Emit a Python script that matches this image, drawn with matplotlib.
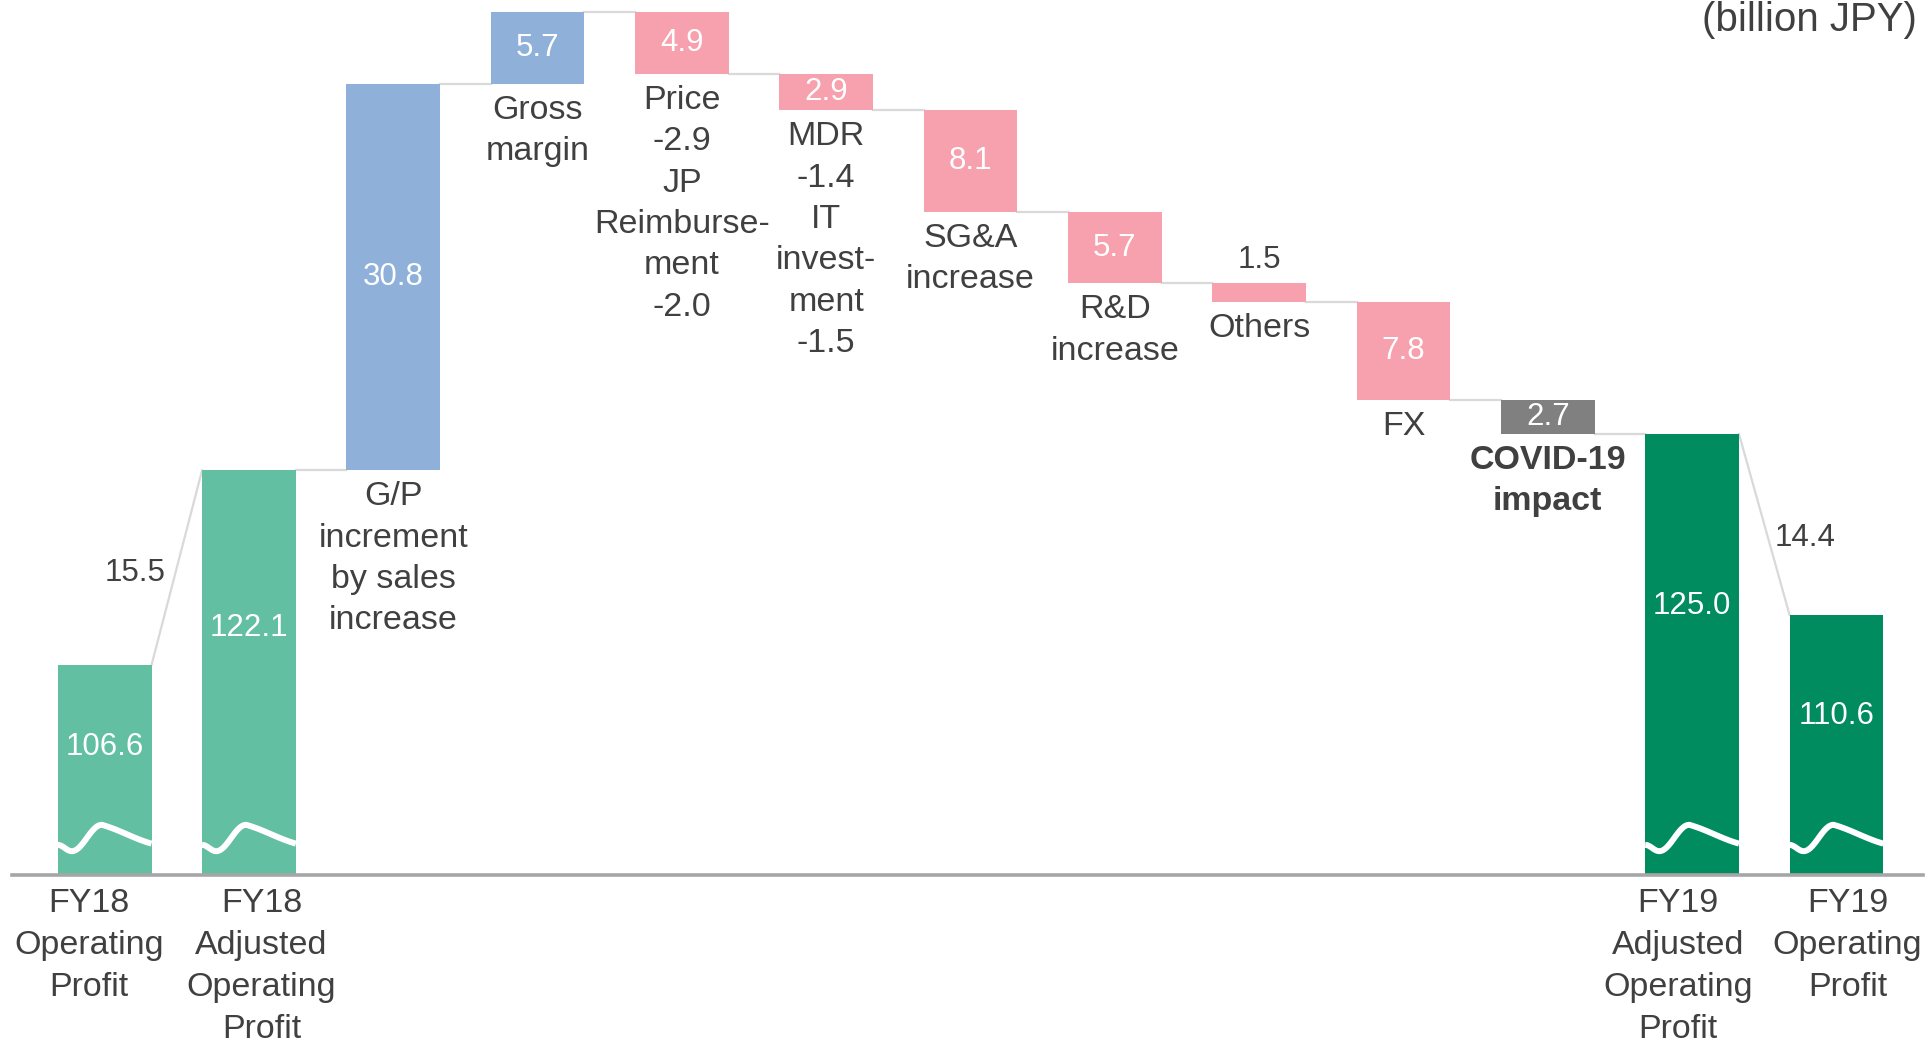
import numpy as np
import matplotlib.pyplot as plt

plt.rcParams['font.family'] = ['Liberation Sans', 'DejaVu Sans']

# Data (billion JPY)
categories = ["FY18\nOperating\nProfit", "FY18\nAdjusted\nOperating\nProfit",
              "G/P\nincrement\nby sales\nincrease", "Gross\nmargin",
              "Price\n-2.9\nJP\nReimburse-\nment\n-2.0",
              "MDR\n-1.4\nIT\ninvest-\nment\n-1.5",
              "SG&A\nincrease", "R&D\nincrease", "Others", "FX",
              "COVID-19\nimpact",
              "FY19\nAdjusted\nOperating\nProfit", "FY19\nOperating\nProfit"]
kinds = ["total18", "total18", "up", "up", "down", "down", "down", "down",
         "down", "down", "covid", "total19", "total19"]
values = [106.6, 122.1, 30.8, 5.7, 4.9, 2.9, 8.1, 5.7, 1.5, 7.8, 2.7, 125.0, 110.6]
adjustments = [15.5, 14.4]   # FY18 -> adjusted, adjusted -> FY19

colors = {"total18": "#63bfa1", "total19": "#008c5f", "up": "#8eb0d9",
          "down": "#f6a1ad", "covid": "#808080"}
text_color = "#404040"

ymin, ymax = 89.86, 159.58
width = 0.65

# build waterfall levels
bottoms, tops, ends, starts = [], [], [], []
level = 0
for v, k in zip(values, kinds):
    if k.startswith("total"):
        b, t = ymin, v
        level = v
        starts.append(t)
    elif k == "up":
        b, t = level, level + v
        starts.append(b)
        level = t
    else:
        b, t = level - v, level
        starts.append(t)
        level = b
    bottoms.append(b)
    tops.append(t)
    ends.append(level)

x = np.arange(len(values))
heights = np.array(tops) - np.array(bottoms)

fig = plt.figure(figsize=(19.27, 10.45), dpi=100)
ax = fig.add_axes([12 / 1927, 1 - 875 / 1045, (1923 - 12) / 1927, 875 / 1045])
ax.set_xlim(-0.642, 12.60)
ax.set_ylim(ymin, ymax)
ax.axis('off')

ax.bar(x, heights, bottom=bottoms, width=width,
       color=[colors[k] for k in kinds], zorder=2)

# connectors
for i in range(len(values) - 1):
    ax.plot([x[i] + width / 2, x[i + 1] - width / 2], [ends[i], starts[i + 1]],
            color="#d9d9d9", lw=1.6, zorder=1)

# baseline
ax.axhline(ymin, color="#a6a6a6", lw=2.6, clip_on=False, zorder=3)

# wavy break marks on the total bars
def break_curve(t):
    keys_t = [0.0, 0.15, 0.47, 1.0]
    keys_y = [2.4, 1.9, 4.0, 2.5]
    out = np.empty_like(t)
    for j in range(len(keys_t) - 1):
        m = (t >= keys_t[j]) & (t <= keys_t[j + 1])
        s = (t[m] - keys_t[j]) / (keys_t[j + 1] - keys_t[j])
        if j == len(keys_t) - 2:
            w = s * 0.75 + 0.25 * (1 - np.cos(np.pi * s)) / 2
        else:
            w = (1 - np.cos(np.pi * s)) / 2
        out[m] = keys_y[j] + (keys_y[j + 1] - keys_y[j]) * w
    return out

tt = np.linspace(0, 1, 120)
for i, k in enumerate(kinds):
    if k.startswith("total"):
        ax.plot(x[i] - width / 2 + tt * width, ymin + break_curve(tt),
                color="white", lw=4.3, solid_capstyle="butt", zorder=4)

# value labels
for i, k in enumerate(kinds):
    if k.startswith("total"):
        ly = tops[i] - 0.39 * (tops[i] - ymin)
        ax.text(x[i], ly, f"{values[i]:.1f}", ha="center", va="center",
                color="white", fontsize=22.5, zorder=5)
    elif heights[i] < 2:
        ax.annotate(f"{values[i]:.1f}", (x[i], tops[i]), xytext=(0, 6),
                    textcoords="offset points", ha="center", va="bottom",
                    color=text_color, fontsize=22.5)
    else:
        ax.text(x[i], (tops[i] + bottoms[i]) / 2, f"{values[i]:.1f}",
                ha="center", va="center", color="white", fontsize=22.5, zorder=5)

# category labels
label_dx = {0: -11.5, 1: 9, 11: -10, 12: 8}
for i, k in enumerate(kinds):
    if k.startswith("total"):
        ax.annotate(categories[i], (x[i], ymin), xytext=(label_dx[i], -9.5),
                    textcoords="offset points", ha="center", va="top",
                    color=text_color, fontsize=24.5, linespacing=1.46,
                    annotation_clip=False)
    else:
        ax.annotate(categories[i], (x[i], bottoms[i]), xytext=(0, -8),
                    textcoords="offset points", ha="center", va="top",
                    color=text_color, fontsize=24.5, linespacing=1.43,
                    fontweight="bold" if k == "covid" else "normal")

# adjustment labels on diagonals
pairs = [(0, 1, (-30, -4)), (11, 12, (29.5, -10))]
for (a, b, off), adj in zip(pairs, adjustments):
    mx = (x[a] + width / 2 + x[b] - width / 2) / 2
    my = (ends[a] + starts[b]) / 2
    ax.annotate(f"{adj:.1f}", (mx, my), xytext=off, textcoords="offset points",
                ha="center", va="center", color=text_color, fontsize=22.5)

fig.text(1917 / 1927, 1 - 1 / 1045, "(billion JPY)", ha="right", va="top",
         color=text_color, fontsize=29)

fig.savefig("out.png", dpi=100)
